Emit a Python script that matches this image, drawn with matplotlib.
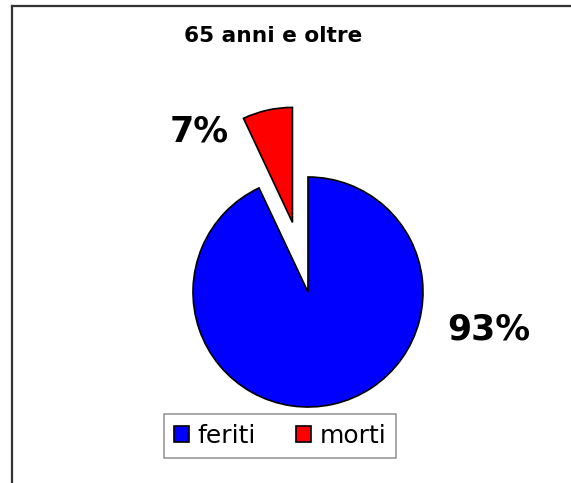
import matplotlib
matplotlib.use("Agg")
import matplotlib.pyplot as plt
from matplotlib.patches import Patch
from matplotlib.lines import Line2D

categories = ["feriti", "morti"]
values = [93, 7]
pct_labels = ["93%", "7%"]
colors = ["#0000FF", "#FF0000"]
title = "65 anni e oltre"

W, H = 571, 483
fig = plt.figure(figsize=(W / 100, H / 100), dpi=100)
ax = fig.add_axes([0, 0, 1, 1])

R = 115.0
cx, cy = 308.0, 292.0
ax.pie(values, colors=colors, startangle=90, counterclock=False,
       explode=[0, 0.62], radius=1,
       wedgeprops=dict(edgecolor="black", linewidth=1.2))
ax.set_aspect("auto")
ax.set_xlim(-cx / R, (W - cx) / R)
ax.set_ylim(-(H - cy) / R, cy / R)
ax.axis("off")

def px(x, y):
    return x / W, 1 - y / H

fig.text(*px(273, 36), title, ha="center", va="center",
         fontsize=15.6, fontweight="bold", family="DejaVu Sans")
fig.text(*px(489, 329), pct_labels[0], ha="center", va="center",
         fontsize=25, fontweight="bold", family="DejaVu Sans")
fig.text(*px(199, 131), pct_labels[1], ha="center", va="center",
         fontsize=25, fontweight="bold", family="DejaVu Sans")

# border
fig.add_artist(Line2D([12 / W, 12 / W], [0, 1 - 6 / H], color="#333333",
                      linewidth=1.6, transform=fig.transFigure))
fig.add_artist(Line2D([12 / W, 1], [1 - 6 / H, 1 - 6 / H], color="#333333",
                      linewidth=1.6, transform=fig.transFigure))

handles = [Patch(facecolor=c, edgecolor="black", linewidth=1.2) for c in colors]
leg = fig.legend(handles, categories, loc="center", bbox_to_anchor=px(280, 436),
                 ncol=2, frameon=True, fancybox=False,
                 handlelength=0.6, handleheight=0.6, handletextpad=0.35,
                 columnspacing=1.6, borderpad=0.4,
                 prop={"family": "DejaVu Sans", "size": 18})
leg.get_frame().set_edgecolor("#808080")
leg.get_frame().set_linewidth(1.2)

fig.savefig("out.png", dpi=100)
